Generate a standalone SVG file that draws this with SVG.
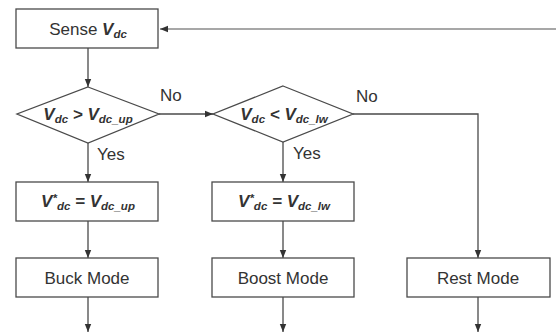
<svg xmlns="http://www.w3.org/2000/svg" width="556" height="334" viewBox="0 0 556 334">
<style>
.box{fill:#fff;stroke:#4a4a4a;stroke-width:1.3}
.ln{fill:none;stroke:#4a4a4a;stroke-width:1.3}
.fb{fill:none;stroke:#8a8a8a;stroke-width:1.5}
text{font-family:"Liberation Sans",Arial,sans-serif;font-size:17px;fill:#333}
.m{text-anchor:middle}
.v{font-weight:bold;font-style:italic}
.s{font-size:11.5px;font-weight:bold;font-style:italic}
</style>
<defs>
<marker id="ah" viewBox="0 0 10 10" refX="10" refY="5" markerWidth="8" markerHeight="8" markerUnits="userSpaceOnUse" orient="auto">
<path d="M0,1 L10,5 L0,9 Z" fill="#333"/>
</marker>
</defs>
<g id="connectors">
<path class="fb" d="M556,29 H160" marker-end="url(#ah)"/>
<path class="ln" d="M88,48 V87" marker-end="url(#ah)"/>
<path class="ln" d="M159,114 H213" marker-end="url(#ah)"/>
<path class="ln" d="M88,143 V182" marker-end="url(#ah)"/>
<path class="ln" d="M283,142 V182" marker-end="url(#ah)"/>
<path class="ln" d="M353,114 H478 V258" marker-end="url(#ah)"/>
<path class="ln" d="M88,221 V258" marker-end="url(#ah)"/>
<path class="ln" d="M283,221 V258" marker-end="url(#ah)"/>
<path class="ln" d="M88,297 V332" marker-end="url(#ah)"/>
<path class="ln" d="M283,297 V332" marker-end="url(#ah)"/>
<path class="ln" d="M478,297 V332" marker-end="url(#ah)"/>
<text x="160" y="101">No</text>
<text x="356" y="102">No</text>
<text x="97" y="160">Yes</text>
<text x="293" y="159">Yes</text>
</g>
<g id="sense">
<rect class="box" x="16" y="9" width="142" height="39"/>
<text class="m" x="88" y="35">Sense <tspan class="v">V</tspan><tspan class="s" dy="3">dc</tspan></text>
</g>
<g id="d1">
<path class="box" d="M88,87 L159,114 L88,143 L17,114 Z"/>
<text class="m" x="88" y="120"><tspan class="v">V</tspan><tspan class="s" dy="3">dc</tspan><tspan class="v" dy="-3"> &gt; V</tspan><tspan class="s" dy="3">dc_up</tspan></text>
</g>
<g id="d2">
<path class="box" d="M283,86 L353,114 L283,142 L213,114 Z"/>
<text class="m" x="284" y="120"><tspan class="v">V</tspan><tspan class="s" dy="3">dc</tspan><tspan class="v" dy="-3"> &lt; V</tspan><tspan class="s" dy="3">dc_lw</tspan></text>
</g>
<g id="setup">
<rect class="box" x="16" y="182" width="142" height="39"/>
<text class="m" x="88" y="207"><tspan class="v">V</tspan><tspan class="s" dy="-5">*</tspan><tspan class="s" dy="8">dc</tspan><tspan class="v" dy="-3"> = V</tspan><tspan class="s" dy="3">dc_up</tspan></text>
</g>
<g id="setlw">
<rect class="box" x="212" y="182" width="142" height="39"/>
<text class="m" x="284" y="207"><tspan class="v">V</tspan><tspan class="s" dy="-5">*</tspan><tspan class="s" dy="8">dc</tspan><tspan class="v" dy="-3"> = V</tspan><tspan class="s" dy="3">dc_lw</tspan></text>
</g>
<g id="buck">
<rect class="box" x="16" y="258" width="142" height="39"/>
<text class="m" x="87" y="284">Buck Mode</text>
</g>
<g id="boost">
<rect class="box" x="212" y="258" width="142" height="39"/>
<text class="m" x="283" y="284">Boost Mode</text>
</g>
<g id="rest">
<rect class="box" x="407" y="258" width="143" height="39"/>
<text class="m" x="478" y="284">Rest Mode</text>
</g>
</svg>
